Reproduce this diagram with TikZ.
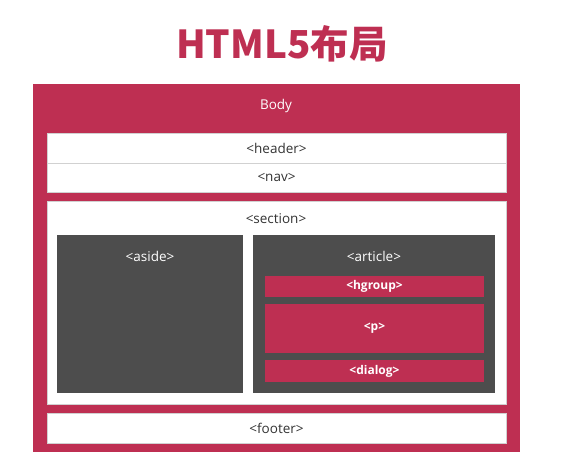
\documentclass[tikz,border=0pt]{standalone}
\usepackage{fontspec}
\setmainfont{Open Sans}
\newfontfamily\cjk{Noto Sans CJK SC}
\usetikzlibrary{positioning}
\definecolor{rose}{HTML}{BE2F52}
\definecolor{slate}{HTML}{4D4D4D}
\definecolor{ink}{HTML}{333333}

\begin{document}
\begin{tikzpicture}[
    x=1pt, y=-1pt,
    lightbox/.style={rectangle, draw=black!18, fill=white, inner sep=0pt, minimum width=459pt, font=\fontsize{13.5}{15}\selectfont, text=ink},
    darkbox/.style={rectangle, fill=slate, inner sep=0pt, minimum height=158pt},
    redbar/.style={rectangle, fill=rose, inner sep=0pt, minimum width=219pt, text=white, font=\fontsize{12}{14}\selectfont\bfseries},
    caption/.style={font=\fontsize{13.5}{15}\selectfont, inner sep=0pt}
]
    \useasboundingbox (0,0) rectangle (568,476);
    % title
    \node [text=rose, font=\cjk\fontsize{38.5}{44}\selectfont\bfseries] (title) at (282,44) {HTML5布局};
    % body frame
    \node [rectangle, fill=rose, inner sep=0pt, minimum width=487pt, minimum height=368pt] (body) at (276,268) {};
    \node [caption, text=white] (bodytxt) at (276,106) {Body};
    \node [lightbox, minimum height=30pt] (header) at (276.5,148) {<header>};
    \node [lightbox, minimum height=29pt, below=0pt of header] (nav) {<nav>};
    \node [lightbox, minimum height=203pt] (section) at (276.5,302.5) {};
    \node [caption, text=ink] (sectiontxt) at (276,219) {<section>};
    \node [lightbox, minimum height=30pt] (footer) at (276.5,428) {<footer>};
    % inner columns
    \node [darkbox, minimum width=186pt] (aside) at (150,314) {};
    \node [caption, text=white] (asidetxt) at (150,256) {<aside>};
    \node [darkbox, minimum width=242pt] (article) at (374,314) {};
    \node [caption, text=white] (articletxt) at (374,256) {<article>};
    \node [redbar, minimum height=21pt] (hgroup) at (374.5,286.5) {<hgroup>};
    \node [redbar, minimum height=49pt] (para) at (374.5,328.5) {<p>};
    \node [redbar, minimum height=22pt] (dialog) at (374.5,371) {<dialog>};
\end{tikzpicture}
\end{document}
